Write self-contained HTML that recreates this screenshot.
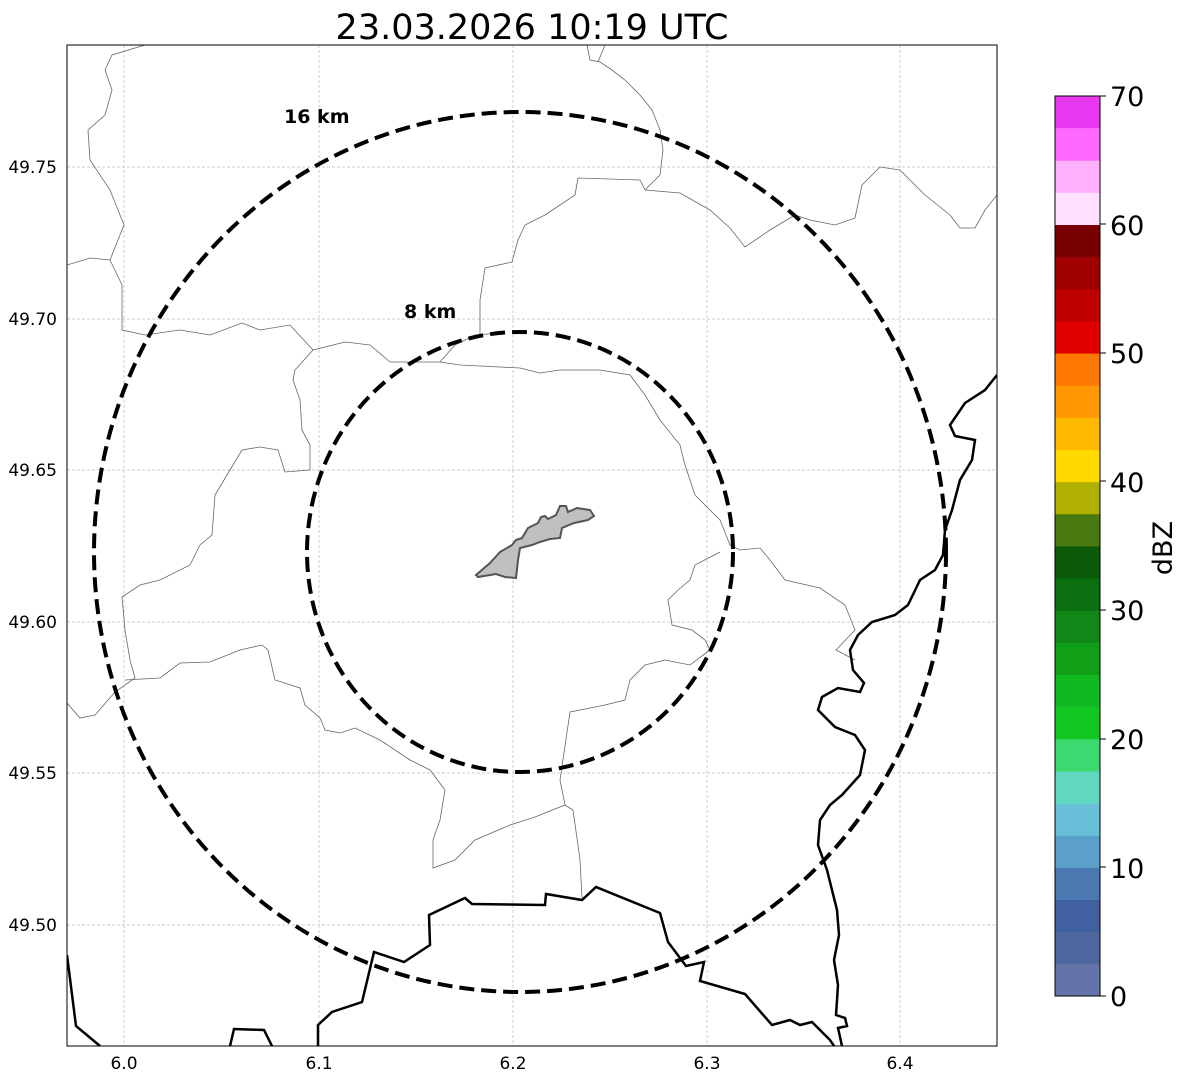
<!DOCTYPE html><html><head><style>body{margin:0;background:#fff}</style></head><body>
<svg width="1188" height="1084" xmlns="http://www.w3.org/2000/svg" font-family="DejaVu Sans, Liberation Sans, sans-serif">
<rect width="1188" height="1084" fill="#fff"/>
<text x="532" y="39" font-size="35" text-anchor="middle">23.03.2026 10:19 UTC</text>
<clipPath id="c"><rect x="67" y="45" width="930" height="1001"/></clipPath>
<g stroke="#bbb" stroke-width="0.7" stroke-dasharray="3,2">
<line x1="124" y1="45" x2="124" y2="1046"/><line x1="319" y1="45" x2="319" y2="1046"/><line x1="513" y1="45" x2="513" y2="1046"/><line x1="707" y1="45" x2="707" y2="1046"/><line x1="900" y1="45" x2="900" y2="1046"/>
<line x1="67" y1="167" x2="997" y2="167"/><line x1="67" y1="319" x2="997" y2="319"/><line x1="67" y1="470" x2="997" y2="470"/><line x1="67" y1="622" x2="997" y2="622"/><line x1="67" y1="773" x2="997" y2="773"/><line x1="67" y1="925" x2="997" y2="925"/>
</g>
<g clip-path="url(#c)" fill="none">
<g stroke="#666" stroke-width="0.8">
<polyline points="67,265 90,258 110,260 118,240 124,225 110,190 90,160 88,130 105,115 112,90 105,70 112,55 145,45"/>
<polyline points="110,260 122,285 122,330 145,335 180,330 210,335 242,323 260,330 290,325 313,350 345,342 370,345 390,362 440,362 455,345 475,335 500,333"/>
<polyline points="440,362 460,365 500,367 520,368 540,373 560,370 600,370 630,375 645,395 660,420 680,445 685,465 695,495 720,520 730,545 740,550 760,548 770,560 785,580 820,588 845,605 855,630 836,650 855,660"/>
<polyline points="313,350 295,370 293,380 300,400 302,430 310,445 310,470 285,472 278,450 260,447 242,450 230,470 215,495 212,535 200,545 190,565 160,580 140,585 122,597 125,630 130,660 135,678 115,692 95,715 80,718 67,703"/>
<polyline points="125,680 160,678 180,663 210,662 240,650 262,645 268,650 275,680 300,688 305,705 320,718 325,730 340,733 355,728 380,740 410,760 430,770 445,790 440,820 433,840 433,868 455,860 475,840 510,825 535,817 565,805 573,810 580,860 582,898"/>
<polyline points="565,805 560,780 570,712 605,705 625,700 630,680 645,665 665,660 690,665 710,650 705,640 692,630 672,625 668,600 678,590 690,580 695,565 720,552"/>
<polyline points="480,335 480,300 485,268 512,262 518,240 525,225 545,215 575,195 578,178 640,180 645,190 680,193 710,210 730,228 745,247 770,230 795,215 810,220 835,225 855,218 862,185 880,167 900,170 925,195 950,215 960,228 975,228 985,210 997,195"/>
<polyline points="645,190 660,175 663,150 660,130 652,110 640,95 625,80 612,70 600,62 590,60 587,45"/>
<polyline points="598,62 605,45"/>
</g>
<g stroke="#000" stroke-width="2.5">
<polyline points="318,1046 318,1025 332,1012 362,1002 374,952 404,962 430,945 429,915 465,898 472,904 545,905 546,894 582,900 596,887 660,913 668,942 686,966 704,962 700,981 745,994 772,1025 790,1020 800,1025 812,1022 830,1040 834,1046"/>
<polyline points="67,955 76,1026 100,1046"/>
<polyline points="230,1046 234,1029 264,1030 272,1046"/>
<polyline points="997,375 985,390 965,403 950,425 955,436 975,440 972,460 960,480 952,510 945,530 943,555 935,570 920,580 908,605 895,615 872,622 858,635 850,650 853,670 864,683 860,692 838,688 822,697 818,710 835,727 855,735 865,750 860,775 842,795 830,805 820,820 818,845 827,870 837,910 839,935 834,960 838,985 836,1015 845,1018 847,1026 838,1028 842,1046"/>
</g>
<polygon points="476,575 490,563 500,552 512,545 516,540 522,538 528,528 538,523 541,517 545,516 548,519 556,515 560,506 566,506 568,512 577,508 590,510 594,516 588,520 574,523 562,528 560,538 550,539 540,542 532,545 520,548 518,560 516,578 505,577 496,574 478,577" fill="#c0c0c0" stroke="#555" stroke-width="2"/>
<g stroke="#000" stroke-width="4" stroke-dasharray="15,7">
<ellipse cx="520" cy="552" rx="426" ry="440"/>
<ellipse cx="520" cy="552" rx="213" ry="220"/>
</g>
</g>
<text x="284" y="123" font-size="19" font-weight="bold">16 km</text>
<text x="404" y="318" font-size="19" font-weight="bold">8 km</text>
<rect x="67" y="45" width="930" height="1001" fill="none" stroke="#000" stroke-width="1"/>
<g font-size="17" text-anchor="end">
<text x="57" y="173">49.75</text><text x="57" y="325">49.70</text><text x="57" y="476">49.65</text><text x="57" y="628">49.60</text><text x="57" y="779">49.55</text><text x="57" y="931">49.50</text>
</g>
<g font-size="17" text-anchor="middle">
<text x="124" y="1069">6.0</text><text x="319" y="1069">6.1</text><text x="513" y="1069">6.2</text><text x="707" y="1069">6.3</text><text x="900" y="1069">6.4</text>
</g>
<g>
<rect x="1055" y="963.86" width="45" height="32.6" fill="#6574a8"/>
<rect x="1055" y="931.71" width="45" height="32.6" fill="#5068a0"/>
<rect x="1055" y="899.57" width="45" height="32.6" fill="#4060a0"/>
<rect x="1055" y="867.43" width="45" height="32.6" fill="#4a78b0"/>
<rect x="1055" y="835.29" width="45" height="32.6" fill="#5aa0c8"/>
<rect x="1055" y="803.14" width="45" height="32.6" fill="#68c0d8"/>
<rect x="1055" y="771" width="45" height="32.6" fill="#60d8c0"/>
<rect x="1055" y="738.86" width="45" height="32.6" fill="#3cd870"/>
<rect x="1055" y="706.71" width="45" height="32.6" fill="#10c820"/>
<rect x="1055" y="674.57" width="45" height="32.6" fill="#10b820"/>
<rect x="1055" y="642.43" width="45" height="32.6" fill="#10a018"/>
<rect x="1055" y="610.29" width="45" height="32.6" fill="#108818"/>
<rect x="1055" y="578.14" width="45" height="32.6" fill="#0a7010"/>
<rect x="1055" y="546" width="45" height="32.6" fill="#0a5a0a"/>
<rect x="1055" y="513.86" width="45" height="32.6" fill="#487810"/>
<rect x="1055" y="481.71" width="45" height="32.6" fill="#b0b000"/>
<rect x="1055" y="449.57" width="45" height="32.6" fill="#ffd800"/>
<rect x="1055" y="417.43" width="45" height="32.6" fill="#ffb800"/>
<rect x="1055" y="385.29" width="45" height="32.6" fill="#ff9800"/>
<rect x="1055" y="353.14" width="45" height="32.6" fill="#ff7800"/>
<rect x="1055" y="321" width="45" height="32.6" fill="#e00000"/>
<rect x="1055" y="288.86" width="45" height="32.6" fill="#c00000"/>
<rect x="1055" y="256.71" width="45" height="32.6" fill="#a00000"/>
<rect x="1055" y="224.57" width="45" height="32.6" fill="#780000"/>
<rect x="1055" y="192.43" width="45" height="32.6" fill="#ffe0ff"/>
<rect x="1055" y="160.29" width="45" height="32.6" fill="#ffb0ff"/>
<rect x="1055" y="128.14" width="45" height="32.6" fill="#ff68ff"/>
<rect x="1055" y="96" width="45" height="32.3" fill="#e838f0"/>
</g>
<rect x="1055" y="96" width="45" height="900" fill="none" stroke="#000"/>
<g font-size="27">
<text x="1110" y="1006">0</text><text x="1110" y="878">10</text><text x="1110" y="749">20</text><text x="1110" y="620">30</text><text x="1110" y="492">40</text><text x="1110" y="363">50</text><text x="1110" y="235">60</text><text x="1110" y="106">70</text>
</g>
<g stroke="#000"><line x1="1100" y1="996" x2="1106" y2="996"/><line x1="1100" y1="867" x2="1106" y2="867"/><line x1="1100" y1="739" x2="1106" y2="739"/><line x1="1100" y1="610" x2="1106" y2="610"/><line x1="1100" y1="481" x2="1106" y2="481"/><line x1="1100" y1="353" x2="1106" y2="353"/><line x1="1100" y1="224" x2="1106" y2="224"/><line x1="1100" y1="96" x2="1106" y2="96"/></g>
<text transform="translate(1172,548) rotate(-90)" font-size="27" text-anchor="middle">dBZ</text>
</svg>
</body></html>
